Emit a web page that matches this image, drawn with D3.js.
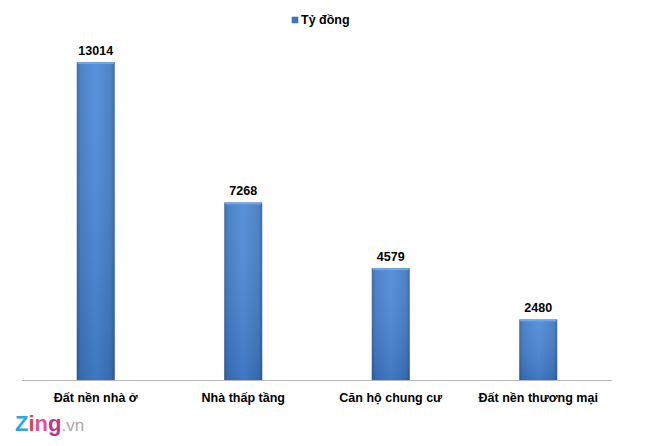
<!DOCTYPE html>
<html><head><meta charset="utf-8">
<script src="https://cdn.jsdelivr.net/npm/d3@7/dist/d3.min.js"></script>
<style>body{margin:0;background:#fff}svg{display:block}</style>
</head><body>
<svg id="c" width="660" height="446"></svg>
<script>
const categories = ["Đất nền nhà ở", "Nhà thấp tầng", "Căn hộ chung cư", "Đất nền thương mại"];
const values = [13014, 7268, 4579, 2480];
const seriesName = "Tỷ đồng";

const svg = d3.select("#c");
const font = "Arial, 'Liberation Sans', sans-serif";
const x = d3.scaleBand().domain(categories).range([22, 612]).paddingInner(0.74).paddingOuter(0.37);
const y = d3.scaleLinear().domain([0, 14000]).range([380, 38]);

const defs = svg.append("defs");
const gh = defs.append("linearGradient").attr("id","gh").attr("x1","0").attr("x2","1").attr("y1","0").attr("y2","0");
gh.append("stop").attr("offset","0").attr("stop-color","#2f5f9e");
gh.append("stop").attr("offset","0.1").attr("stop-color","#3f78c2");
gh.append("stop").attr("offset","0.5").attr("stop-color","#4a88d8");
gh.append("stop").attr("offset","0.9").attr("stop-color","#3f78c2");
gh.append("stop").attr("offset","1").attr("stop-color","#2f5f9e");
const gv = defs.append("linearGradient").attr("id","gv").attr("x1","0").attr("x2","0").attr("y1","0").attr("y2","1");
gv.append("stop").attr("offset","0").attr("stop-color","#ffffff").attr("stop-opacity",0.08);
gv.append("stop").attr("offset","1").attr("stop-color","#0a2a5a").attr("stop-opacity",0.18);

const bw = 38;
const g = svg.append("g");
g.selectAll("rect.b").data(values).join("rect").attr("class","b")
  .attr("x",(d,i)=>x(categories[i])+x.bandwidth()/2-bw/2).attr("width",bw)
  .attr("y",d=>y(d)).attr("height",d=>y(0)-y(d)).attr("fill","url(#gh)");
g.selectAll("rect.v").data(values).join("rect").attr("class","v")
  .attr("x",(d,i)=>x(categories[i])+x.bandwidth()/2-bw/2).attr("width",bw)
  .attr("y",d=>y(d)).attr("height",d=>y(0)-y(d)).attr("fill","url(#gv)");
// top bevel
g.selectAll("rect.t").data(values).join("rect").attr("class","t")
  .attr("x",(d,i)=>x(categories[i])+x.bandwidth()/2-bw/2+1).attr("width",bw-2)
  .attr("y",d=>y(d)).attr("height",2).attr("fill","#6ea6ea");

// value labels
g.selectAll("text.v").data(values).join("text").attr("class","v")
  .attr("x",(d,i)=>x(categories[i])+x.bandwidth()/2).attr("y",d=>y(d)-7)
  .attr("text-anchor","middle").attr("font-family",font).attr("font-weight","bold")
  .attr("font-size",12.5).attr("fill","#000").text(d=>d);

// axis
const ax = svg.append("g").attr("transform","translate(0,380)").call(d3.axisBottom(x).tickSize(0).tickPadding(13));
ax.select(".domain").attr("stroke","#b8b8b8").attr("d","M22,0.5H612");
ax.selectAll("text").attr("font-family",font).attr("font-weight","bold").attr("font-size",12.5).attr("fill","#000");

// legend
svg.append("rect").attr("x",292).attr("y",17).attr("width",6).attr("height",6).attr("fill","#3f78c2").attr("stroke","#2f5f9e").attr("stroke-width",0.5);
svg.append("text").attr("x",301).attr("y",24).attr("font-family",font).attr("font-weight","bold").attr("font-size",12.5).text(seriesName);

// logo
const logo = svg.append("text").attr("x",15).attr("y",431).attr("font-family",font).attr("font-weight","bold").attr("font-size",22);
[["Z","#2ea6e0"],["i","#e8404a"],["n","#ec4f8e"],["g","#c2338a"]].forEach(([c,col])=>logo.append("tspan").attr("fill",col).text(c));
logo.append("tspan").attr("fill","#a8a8a8").attr("font-weight","normal").attr("font-size",17).text(".vn");
</script>
</body></html>
